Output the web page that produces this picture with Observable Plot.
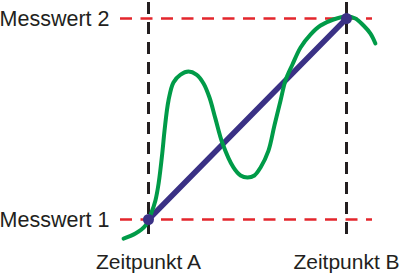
<!DOCTYPE html>
<html>
<head>
<meta charset="utf-8">
<script src="https://cdn.jsdelivr.net/npm/d3@7"></script>
<script src="https://cdn.jsdelivr.net/npm/@observablehq/plot@0.6"></script>
<style>
  html, body { margin: 0; padding: 0; background: #fff; }
  #chart svg { display: block; }
</style>
</head>
<body>
<div id="chart"></div>
<script>
// Time points (A, B) and measured values (1, 2)
const timeLabels = ["Zeitpunkt A", "Zeitpunkt B"];
const valueLabels = ["Messwert 1", "Messwert 2"];
const timePoints = [0, 1];
const valuePoints = [0, 1];

// Green fluctuating signal (time, value)
const curveT = [-0.126, -0.066, -0.015, 0.015, 0.035, 0.051, 0.071, 0.081, 0.101, 0.126, 0.162, 0.202, 0.242, 0.278, 0.308, 0.338, 0.374, 0.429, 0.465, 0.500, 0.535, 0.566, 0.606, 0.636, 0.667, 0.692, 0.727, 0.768, 0.818, 0.869, 0.934, 1.000, 1.045, 1.086, 1.121, 1.146];
const curveV = [-0.095, -0.070, -0.030, 0.035, 0.095, 0.179, 0.343, 0.443, 0.592, 0.682, 0.721, 0.736, 0.721, 0.677, 0.607, 0.502, 0.378, 0.259, 0.219, 0.209, 0.219, 0.259, 0.343, 0.468, 0.592, 0.692, 0.771, 0.856, 0.920, 0.965, 0.995, 1.010, 1.000, 0.965, 0.925, 0.876];

const measurements = timePoints.map((t, i) => ({t, v: valuePoints[i]}));
const curve = curveT.map((t, i) => ({t, v: curveV[i]}));

const ink = "#231f20";
const plot = Plot.plot({
  width: 400,
  height: 274,
  marginLeft: 148,
  marginRight: 54,
  marginTop: 18,
  marginBottom: 55,
  style: {fontFamily: "'Liberation Sans', Arial, sans-serif", color: ink, background: "#fff"},
  x: {domain: [0, 1], label: null},
  y: {domain: [0, 1], label: null},
  marks: [
    Plot.ruleX(timePoints, {x: d => d, y1: 1.09, y2: -0.09, stroke: ink, strokeWidth: 3, strokeDasharray: "12,8", strokeDashoffset: 18}),
    Plot.ruleY(valuePoints, {y: d => d, x1: -0.1414, x2: 1.1313, stroke: "#e3262c", strokeWidth: 2.6, strokeDasharray: "12,8.5"}),
    Plot.line(measurements, {x: "t", y: "v", stroke: "#3a3185", strokeWidth: 5.5}),
    Plot.line(curve, {x: "t", y: "v", stroke: "#009b48", strokeWidth: 4, curve: "catmull-rom"}),
    Plot.dot(measurements, {x: "t", y: "v", r: 5.5, fill: "#3a3185"}),
    Plot.axisX(timePoints, {label: null, tickSize: 0, tickPadding: 35, fontSize: 21, tickFormat: (d, i) => timeLabels[i], color: ink}),
    Plot.axisY(valuePoints, {label: null, anchor: "left", tickSize: 0, tickPadding: 39, fontSize: 21.5, dy: 1, tickFormat: (d, i) => valueLabels[i], color: ink})
  ]
});
document.getElementById("chart").appendChild(plot);
</script>
</body>
</html>
